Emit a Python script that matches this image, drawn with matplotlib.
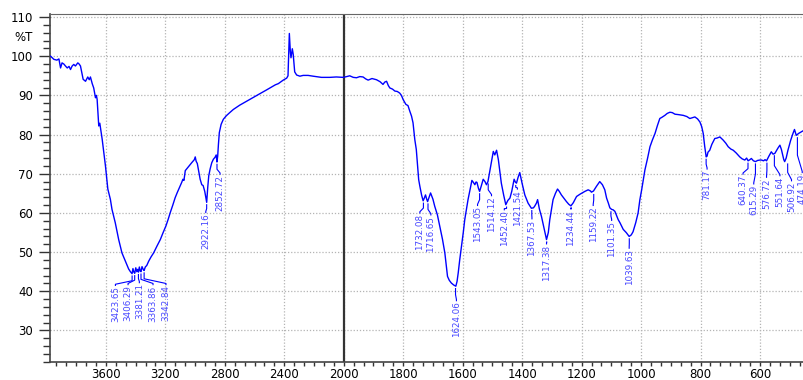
import numpy as np
import matplotlib.pyplot as plt
from matplotlib.ticker import FixedLocator, MultipleLocator

# FTIR spectrum (cm-1, %T)
wavenumber = [
    3972, 3950, 3930, 3916, 3905, 3895, 3883, 3872, 3860, 3848, 3838, 3827, 3816, 3805,
    3789, 3780, 3771, 3760, 3753, 3737, 3722, 3712, 3704, 3692, 3682, 3670, 3664, 3659,
    3648, 3641, 3625, 3603, 3594, 3587, 3570, 3559, 3537, 3514, 3492, 3469, 3447, 3435,
    3424, 3418, 3412, 3406, 3399, 3392, 3386, 3381, 3375, 3369, 3364, 3357, 3349, 3343,
    3335, 3325, 3312, 3296, 3279, 3257, 3234, 3215, 3196, 3180, 3167, 3150, 3134, 3120,
    3100, 3090, 3082, 3075, 3066, 3045, 3021, 3005, 2999, 2993, 2985, 2975, 2966, 2955,
    2946, 2935, 2928, 2922, 2915, 2908, 2899, 2888, 2877, 2866, 2858, 2853, 2848, 2843,
    2837, 2825, 2810, 2790, 2770, 2743, 2700, 2631, 2575, 2519, 2460, 2440, 2407, 2384,
    2375, 2366, 2359, 2355, 2346, 2340, 2330, 2317, 2295, 2273, 2240, 2206, 2150, 2094,
    2050, 2005,
    1990, 1980, 1968, 1957, 1946, 1935, 1926, 1918, 1905, 1890, 1878, 1868, 1862, 1856,
    1850, 1845, 1836, 1828, 1820, 1812, 1806, 1800, 1791, 1784, 1778, 1772, 1767, 1761,
    1756, 1748, 1744, 1738, 1733, 1729, 1725, 1721, 1718, 1713, 1708, 1700, 1694, 1685,
    1677, 1668, 1660, 1651, 1645, 1638, 1630, 1623, 1619, 1615, 1610, 1604, 1598, 1593,
    1587, 1582, 1575, 1569, 1564, 1559, 1555, 1552, 1547, 1543, 1537, 1531, 1525, 1520,
    1515, 1508, 1502, 1497, 1492, 1486, 1480, 1475, 1470, 1462, 1455, 1448, 1441, 1435,
    1427, 1423, 1419, 1414, 1408, 1400, 1391, 1380, 1369, 1362, 1358, 1352, 1348, 1342,
    1335, 1326, 1318, 1312, 1307, 1300, 1296, 1288, 1281, 1275, 1268, 1260, 1251, 1243,
    1236, 1228, 1217, 1205, 1189, 1178, 1170, 1167, 1160, 1150, 1139, 1130, 1122, 1116,
    1110, 1105, 1099, 1094, 1088, 1077, 1071, 1060, 1050, 1040, 1033, 1027, 1018, 1010,
    1004, 998, 987, 978, 970, 962, 953, 945, 937, 930, 920, 912, 903, 895,
    886, 875, 858, 846, 836, 828, 819, 810, 802, 796, 791, 786, 781, 778,
    775, 769, 762, 752, 745, 735, 724, 715, 707, 698, 690, 680, 668, 660,
    651, 645, 640, 634, 629, 622, 615, 608, 600, 595, 588, 583, 578, 570,
    562, 556, 550, 540, 533, 528, 525, 520, 517, 512, 506, 497, 489, 484,
    478, 470, 461, 452,
]
transmittance = [
    100.0, 99.2, 99.0, 99.3, 97.0, 98.3, 98.0, 97.5, 97.0, 97.4, 96.6, 97.5, 97.9, 97.5,
    98.3, 98.0, 97.5, 95.5, 94.1, 93.6, 94.7, 94.0, 94.7, 93.0, 91.9, 89.4, 90.0, 89.0,
    82.2, 82.9, 78.8, 72.0, 68.7, 66.1, 63.5, 60.9, 57.5, 53.2, 49.8, 47.7, 45.7, 45.0,
    44.5, 45.8, 44.9, 44.6, 46.0, 45.0, 45.6, 44.9, 46.2, 45.2, 45.0, 46.3, 45.6, 45.3,
    46.2, 46.6, 47.7, 48.8, 49.8, 51.5, 53.2, 55.0, 56.7, 58.5, 60.1, 62.0, 63.9, 65.2,
    66.9, 67.8, 68.6, 68.3, 70.8, 71.8, 72.9, 73.6, 74.3, 73.2, 72.6, 70.5, 68.6, 67.2,
    67.0, 65.5, 64.0, 62.7, 66.5, 69.5, 71.2, 72.8, 73.7, 74.2, 74.8, 73.0, 74.5, 77.5,
    80.5, 82.6, 83.9, 84.8, 85.5, 86.4, 87.5, 89.0, 90.2, 91.4, 92.7, 93.0, 93.9, 94.4,
    95.0, 105.8, 101.0, 99.6, 101.9, 100.5, 96.0, 95.2, 94.9, 95.1, 95.1, 94.9, 94.6, 94.6,
    94.7, 94.6,
    94.8, 95.0, 94.6, 94.5, 94.8, 94.7, 94.2, 93.9, 94.3, 94.0, 93.5, 92.8, 93.4, 93.6,
    92.5, 91.9, 91.6, 91.1, 91.0, 90.6, 90.0, 88.9, 87.7, 87.4, 86.0, 84.7, 83.0, 78.7,
    76.2, 68.5, 66.8, 64.5, 63.1, 63.8, 64.6, 63.5, 62.9, 64.0, 65.1, 63.5, 61.7, 59.5,
    56.6, 53.3, 49.8, 43.8, 42.8, 42.1, 41.6, 41.3, 42.5, 44.7, 48.0, 51.5, 55.0, 58.3,
    61.0, 63.4, 66.0, 68.3, 67.8, 67.2, 67.9, 67.8, 66.3, 65.5, 67.0, 68.6, 68.0, 67.2,
    68.0, 71.0, 73.5, 75.7, 74.8, 76.0, 73.6, 70.5, 67.6, 64.5, 62.1, 63.2, 63.8, 65.5,
    68.6, 67.9, 67.6, 69.0, 70.3, 67.5, 64.6, 62.5, 61.2, 61.3, 61.7, 62.5, 63.4, 61.0,
    59.1, 56.0, 53.2, 55.0, 58.3, 61.5, 63.4, 65.0, 66.1, 65.5, 64.6, 63.8, 62.9, 62.2,
    61.8, 62.6, 64.2, 64.8, 65.5, 65.9, 65.6, 65.3, 65.6, 66.8, 68.0, 67.2, 65.9, 63.8,
    62.5, 61.3, 60.9, 60.8, 60.4, 58.3, 57.5, 55.8, 55.0, 54.0, 54.4, 55.2, 57.5, 60.0,
    63.4, 65.9, 71.0, 74.0, 76.9, 78.6, 80.3, 82.3, 84.1, 84.4, 84.9, 85.4, 85.7, 85.6,
    85.2, 85.1, 84.9, 84.6, 84.1, 84.3, 84.5, 84.0, 83.2, 82.0, 80.3, 77.0, 74.3, 74.5,
    75.5, 76.0, 77.5, 79.0, 79.1, 79.4, 78.6, 77.8, 76.9, 76.3, 76.0, 75.3, 74.3, 73.8,
    73.5, 74.0, 73.3, 73.6, 73.9, 73.3, 73.1, 73.4, 73.5, 73.5, 73.3, 73.6, 73.3, 74.5,
    75.6, 75.0, 75.2, 76.5, 77.3, 76.2, 75.2, 73.6, 73.1, 74.0, 76.0, 78.5, 80.3, 81.3,
    79.8, 80.3, 80.7, 81.1,
]

# peak annotations: name, peak position, %T at peak, label position, label top
peak_names = ["3423.65", "3406.29", "3381.21", "3363.86", "3342.84", "2922.16", "2852.72",
              "1732.08", "1716.65", "1624.06", "1543.05", "1514.12", "1452.40", "1421.54",
              "1367.53", "1317.38", "1234.44", "1159.22", "1101.35", "1039.63", "781.17",
              "640.37", "615.29", "576.72", "551.64", "506.92", "474.19"]
peak_wn = [3423.65, 3406.29, 3381.21, 3363.86, 3342.84, 2922.16, 2852.72,
           1732.08, 1716.65, 1624.06, 1543.05, 1514.12, 1452.40, 1421.54,
           1367.53, 1317.38, 1234.44, 1159.22, 1101.35, 1039.63, 781.17,
           640.37, 615.29, 576.72, 551.64, 506.92, 474.19]
peak_t = [44.5, 44.6, 44.9, 45.0, 45.3, 62.7, 73.0,
          63.1, 62.9, 41.3, 65.5, 68.0, 62.1, 67.6,
          61.2, 53.2, 61.8, 65.3, 60.9, 54.0, 74.3,
          73.3, 73.1, 73.3, 75.2, 73.1, 79.8]
label_wn = [3536, 3451, 3375, 3283, 3196, 2928, 2832,
            1744, 1707, 1621, 1550, 1503, 1460, 1416,
            1367, 1318, 1236, 1161, 1099, 1040, 778,
            657, 621, 578, 533, 494, 458]
label_top = [41.3, 41.5, 42.0, 41.5, 41.5, 59.9, 69.7,
             59.8, 59.3, 37.4, 61.7, 64.2, 60.6, 65.9,
             58.3, 51.9, 60.8, 61.7, 57.9, 50.8, 71.0,
             69.7, 67.2, 68.9, 69.3, 68.0, 70.1]

x_ticks = [3600, 3200, 2800, 2400, 2000, 1800, 1600, 1400, 1200, 1000, 800, 600]
y_ticks = [30, 40, 50, 60, 70, 80, 90, 100, 110]

BREAK = 2000  # above this the axis is compressed by half


def fwd(x):
    x = np.asarray(x, float)
    return np.where(x > BREAK, BREAK + (x - BREAK) / 2, x)


def inv(u):
    u = np.asarray(u, float)
    return np.where(u > BREAK, BREAK + (u - BREAK) * 2, u)


blue = "#0000ff"
label_blue = "#4646ff"
narrow = ["Liberation Sans Narrow", "DejaVu Sans"]

fig = plt.figure(figsize=(8.04, 3.8), dpi=100)
ax = fig.add_axes([50 / 804, 18 / 380, 754 / 804, 348 / 380])
ax.set_xscale("function", functions=(fwd, inv))
ax.set_xlim(3976, 452)
ax.set_ylim(21.96, 110.77)

ax.plot(wavenumber, transmittance, color=blue, lw=1.0, zorder=3)

for name, pw, pt, lw_, lt in zip(peak_names, peak_wn, peak_t, label_wn, label_top):
    start = pt - 0.6
    end = lt + 0.2
    mid = (start + end) / 2
    ax.plot([pw, pw, lw_, lw_], [start, mid, end + 0.3, end], color=blue, lw=0.8, zorder=3)
    ax.text(lw_, lt, name, rotation=90, ha="center", va="top", fontsize=6.3,
            color=label_blue, family=narrow, zorder=4)

# axes styling
ax.xaxis.set_major_locator(FixedLocator(x_ticks))
ax.set_xticklabels([str(t) for t in x_ticks])
minor_x = [BREAK + 400 / 6 * k for k in range(1, 30)] + [BREAK - 200 / 6 * k for k in range(1, 47)]
ax.xaxis.set_minor_locator(FixedLocator(minor_x))
ax.set_yticks(y_ticks)
ax.yaxis.set_minor_locator(MultipleLocator(2))

ax.tick_params(axis="x", which="major", length=3, width=1, pad=1.5, labelsize=8.5, colors="#333333")
ax.tick_params(axis="x", which="minor", length=3, width=1, colors="#333333")
ax.tick_params(axis="y", which="major", length=8, width=1, pad=4, labelsize=8.5, colors="#333333")
ax.tick_params(axis="y", which="minor", length=5, width=1, colors="#333333")
for lab in ax.get_xticklabels() + ax.get_yticklabels():
    lab.set_color("black")

ax.grid(True, which="major", color="#b4b4b4", lw=0.9, linestyle=(0, (1, 1.5)))
ax.axvline(BREAK, color="#333333", lw=1.6, zorder=2)

ax.spines["right"].set_visible(False)
ax.spines["top"].set_color("#666666")
ax.spines["left"].set_color("#444444")
ax.spines["bottom"].set_color("#444444")
ax.spines["left"].set_linewidth(1.2)
ax.spines["bottom"].set_linewidth(1.2)

ax.text(-0.0225, 104.7, "%T", transform=ax.get_yaxis_transform(), ha="right", va="center",
        fontsize=8.5)

fig.savefig("out.png", dpi=100)
